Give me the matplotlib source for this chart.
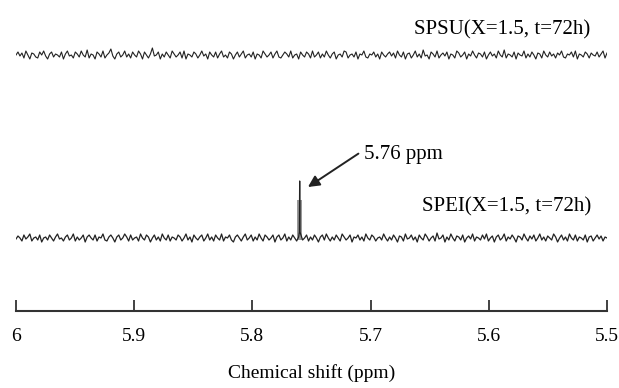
import numpy as np
import matplotlib.pyplot as plt

plt.rcParams['font.family'] = ['Liberation Serif', 'DejaVu Serif']

# spectra (baseline noise in px-like units)
spsu_noise = [
    0, 3, -1, 2, -3, 4, 0, -4, 2, 1, -2, -3, 3, 0, 4, -1, -4, 1, 3, -2,
    1, 0, -2, 3, -4, 1, 4, -1, 0, -3, 3, 1, -2, 4, 0, -2, 5, -3, 1, 0,
    -4, 3, 1, -2, 4, -3, 0, 2, 6, -1, -4, 1, 3, -2, 0, 4, -2, 1, -3, 3,
    0, -2, 4, 1, -4, 3, 0, -3, 1, 7, -1, 0, 3, -4, 1, -2, 3, 0, -3, 4,
    1, -2, 0, 3, -3, 4, -4, 1, 0, -2, 3, 1, -3, 0, 4, -1, 1, -4, 3, 0,
    -2, 3, -3, 1, 4, -2, 0, -3, 3, 1, -4, 0, 3, -2, 1, 4, -3, 0, 1, -2,
    3, -4, 1, 0, -3, 4, 1, -2, 0, 3, -3, 1, 4, -2, -3, 0, 3, 1, -2, 4,
    -3, 0, 1, -4, 3, 0, -2, 3, 1, -3, 4, -2, 0, 3, -3, 1, -2, 4, 0, -3,
    1, 3, -4, 0, 1, -2, 4, 3, -3, 0, 1, -2, 3, -4, 1, 0, 4, -2, -3, 1,
    0, 3, -2, 1, -4, 3, 0, -2, 1, 3, -1, 2, -3, 4, 0, -2, 3, -4, 1, 2,
    -3, 0, 4, -2, 1, -3, 5, -1, 0, -4, 3, 1, -2, 4, -3, 0, 2, -1, 3, -4,
    1, 0, -3, 4, 2, -2, 0, 3, -4, 1, -1, 4, 0, -3, 2, 1, -2, 3, -4, 0,
    3, -1, 1, -3, 4, 0, -2, 5, -3, 1, 0, -2, 3, -4, 2, 0, -1, 4, -3, 1,
    -2, 3, 0, -4, 2, 1, -3, 4, 0, -2, 3, -1, 1, -3, 2, 0, 4, -2, -3, 1,
    0, 3, -2, 4, -4, 1, 0, -2, 3, 1, -3, 2, 0, -1, 3, -2, 1, 4, -3, 2,
]
spei_noise = [
    -1, 2, 0, -3, 3, -1, 1, 4, -3, 0, 1, -2, 3, -4, 0, 1, -2, 3, 0, -3,
    1, 4, -1, 0, -3, 1, 3, -2, 0, 4, -3, 1, -2, 0, 3, -4, 1, 3, 0, -2,
    3, -3, 1, 0, 4, -2, -3, 1, 3, 0, -4, 1, 3, -2, 0, 4, 1, -3, 3, -2,
    0, 1, -3, 4, 0, -2, 3, 1, -4, 0, 3, -2, 1, -3, 4, 0, -2, 3, -3, 1,
    0, -2, 3, 1, -3, 0, 4, -2, 1, -4, 3, 0, -2, 1, 3, -3, 0, 4, -2, 1,
    -3, 3, 0, -2, 4, -3, 1, 0, 3, -2, -4, 1, 3, 0, -3, 1, 4, -2, 0, 3,
    -3, 1, -2, 4, 0, -3, 3, 1, -2, 0, 3, -4, 1, 3, -2, 0, 4, -3, 1, -2,
    3, 0, -3, 1, 4, -2, 0, 3, -3, 1, -2, 3, 0, -4, 1, 3, -2, 4, 0, -3,
    1, -2, 3, 0, -3, 4, 1, -2, 0, 3, -4, 1, 0, 3, -2, 1, -3, 4, 0, -2,
    3, 1, -3, 0, 1, -2, 4, 0, -3, 1, -2, 3, 0, -4, 2, 1, -3, 4, -1, 0,
    3, -2, 1, -4, 3, 0, -2, 4, 1, -3, 0, 2, -3, 5, -1, 0, 3, -4, 1, -2,
    4, 0, -3, 2, 1, -2, 3, -4, 0, 2, -1, 4, -3, 1, 0, -2, 3, -1, 4, -3,
    0, 2, -4, 1, 3, -2, 0, 4, -3, 1, -1, 3, 0, -4, 2, 1, -2, 4, 0, -3,
    2, -1, 3, -3, 0, 4, -2, 1, -3, 2, 0, -2, 4, 1, -4, 0, 3, -2, 1, -3,
    4, 0, -2, 3, -3, 1, 0, -2, 3, -4, 1, 2, -3, 0, 3, -1, 2, -3, 1, 0,
]
spike_ppm = [5.7603, 5.7600, 5.7597]
spike_val = [6, 57, 6]
band_ppm = [5.7621, 5.7579]   # grey multiplet band
band_height = 38

spsu_offset = 256
spei_offset = 73
xticks = [6.0, 5.9, 5.8, 5.7, 5.6, 5.5]

fig = plt.figure(figsize=(6.19, 3.88), dpi=100)
ax = fig.add_axes([16 / 619, 77 / 388, 591 / 619, 311 / 388])

x1 = np.linspace(6.0, 5.5, len(spsu_noise))
ax.plot(x1, np.array(spsu_noise) + spsu_offset, color='#222222', lw=0.8)

ax.fill_between(band_ppm, spei_offset - 2, spei_offset + band_height,
                color='#999999', lw=0)
x2 = np.concatenate([np.linspace(6.0, 5.5, len(spei_noise)), spike_ppm])
y2 = np.concatenate([spei_noise, spike_val])
order = np.argsort(-x2)
ax.plot(x2[order], y2[order] + spei_offset, color='#222222', lw=0.9)

ax.text(5.514, 281, 'SPSU(X=1.5, t=72h)', ha='right', va='center', fontsize=15)
ax.text(5.513, 104, 'SPEI(X=1.5, t=72h)', ha='right', va='center', fontsize=15)
ax.annotate('5.76 ppm', xy=(5.753, 124), xytext=(5.706, 156),
            ha='left', va='center', fontsize=15,
            arrowprops=dict(arrowstyle='-|>', color='#222222', lw=1.4,
                            mutation_scale=17, shrinkA=2, shrinkB=0,
                            relpos=(0, 0.75)))

ax.set_xlim(6.0, 5.5)
ax.set_ylim(0, 311)
for s in ['top', 'left', 'right']:
    ax.spines[s].set_visible(False)
ax.spines['bottom'].set_linewidth(1.5)
ax.spines['bottom'].set_color('#333333')
ax.set_yticks([])
ax.set_xticks(xticks)
ax.set_xticklabels(['6', '5.9', '5.8', '5.7', '5.6', '5.5'])
ax.tick_params(axis='x', direction='in', length=8, width=1.3, color='#333333',
               labelsize=14, pad=12)
ax.set_xlabel('Chemical shift (ppm)', fontsize=14, labelpad=14)

fig.savefig('out.png', dpi=100)
